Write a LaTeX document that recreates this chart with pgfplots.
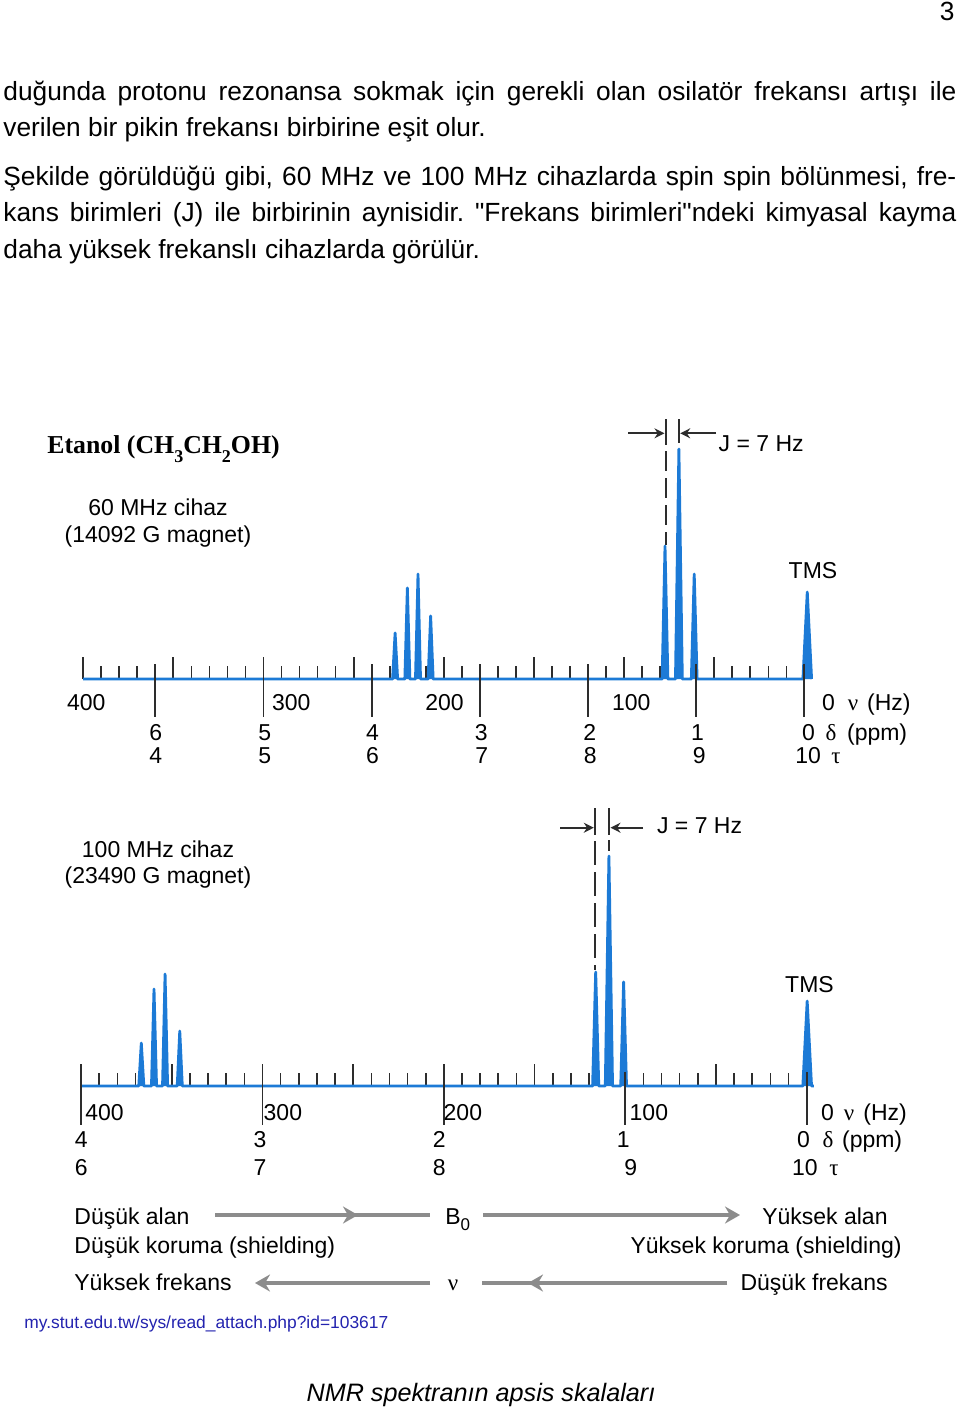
\documentclass[border=0pt]{standalone}
\usepackage{fontspec}
\setmainfont{Liberation Sans}[Ligatures=TeXOff]
\newfontfamily\timesf{Liberation Serif}
\usepackage{pgfplots}
\pgfplotsset{compat=1.18}
\usetikzlibrary{arrows.meta}

\definecolor{specblue}{RGB}{28,122,214}
\definecolor{arrgray}{RGB}{140,140,140}
\definecolor{urlblue}{RGB}{35,35,175}
\definecolor{tickc}{RGB}{45,45,45}

\newcommand{\lab}{\fontsize{11.5}{13}\selectfont}
\newcommand{\bodyf}{\fontsize{13.15}{16}\selectfont}
\newcommand{\tsub}[1]{\raisebox{-4.5pt}{\fontsize{9}{9}\selectfont #1}}

\pgfplotsset{nmr/.style={
  scale only axis, x dir=reverse, xmin=-4, xmax=400, ymin=0, ymax=240,
  height=120pt, anchor=south west, clip=false,
  axis y line=none, axis x line*=bottom,
  x axis line style={draw=none},
  xtick={0,50,...,400}, minor x tick num=4,
  tick align=inside, major tick length=11pt, minor tick length=6.5pt,
  xticklabel=\empty,
  every tick/.style={tickc, line width=0.9pt},
  every minor tick/.style={tickc, line width=0.8pt},
}}

\begin{document}
\frenchspacing
\begin{tikzpicture}[x=0.5pt,y=-0.5pt]
\path[use as bounding box] (0,0) rectangle (960,1410);
\fill[white] (0,0) rectangle (960,1410);

% ---------- page text ----------
\node[anchor=base east, inner sep=0, font=\bodyf] at (955,20) {3};
\node[anchor=base west, inner sep=0, font=\bodyf] at (3,100) {\makebox[476.5pt][s]{duğunda protonu rezonansa sokmak için gerekli olan osilatör frekansı artışı ile}};
\node[anchor=base west, inner sep=0, font=\bodyf] at (3,136) {verilen bir pikin frekansı birbirine eşit olur.};
\node[anchor=base west, inner sep=0, font=\bodyf] at (3,185) {\makebox[476.5pt][s]{Şekilde görüldüğü gibi, 60 MHz ve 100 MHz cihazlarda spin spin bölünmesi, fre-}};
\node[anchor=base west, inner sep=0, font=\bodyf] at (3,221.5) {\makebox[476.5pt][s]{kans birimleri (J) ile birbirinin aynisidir. "Frekans birimleri"ndeki kimyasal kayma}};
\node[anchor=base west, inner sep=0, font=\bodyf] at (3,258) {daha yüksek frekanslı cihazlarda görülür.};

% ---------- title ----------
\node[anchor=base west, inner sep=0] at (47,453) {\timesf\bfseries\fontsize{12.9}{14}\selectfont Etanol (CH\tsub{3}CH\tsub{2}OH)};

% ---------- 60 MHz spectrum ----------
\begin{axis}[nmr, at={(41.6pt,-339.5pt)}, width=364.2pt]
\addplot[specblue, line width=1.4pt, line join=round, fill=specblue] coordinates {
(400,0) (228.4,0) (227,46) (225.6,0) (221.6,0) (220.2,91) (218.8,0)
(215.7,0) (214.3,105) (212.9,0) (208.7,0) (207.3,63) (205.9,0)
(78.9,0) (77.3,133) (75.7,0) (71.5,0) (69.6,230) (67.7,0)
(62.7,0) (61.1,105) (59.5,0) (0.8,0) (-1.6,87) (-4,0)};
\pgfplotsinvokeforeach{0,60,120,180,240,300,360}{
  \draw[tickc, line width=0.9pt] (axis cs:#1,15) -- (axis cs:#1,-38);
}
\end{axis}

% ---------- 100 MHz spectrum ----------
\begin{axis}[nmr, at={(40.55pt,-543pt)}, width=366.4pt]
\addplot[specblue, line width=1.4pt, line join=round, fill=specblue] coordinates {
(400,0) (368.2,0) (366.8,43) (365.4,0) (361.2,0) (359.8,97) (358.4,0)
(355.1,0) (353.7,112) (352.3,0) (347,0) (345.6,55) (344.2,0)
(118,0) (116.3,114) (114.6,0) (111,0) (109,230) (107,0)
(102.5,0) (100.9,104) (99.3,0) (2.1,0) (-0.3,85) (-2.7,0) (-4,0)};
\pgfplotsinvokeforeach{0,100,200,300,400}{
  \draw[tickc, line width=0.9pt] (axis cs:#1,14) -- (axis cs:#1,-39);
}
\end{axis}

% ---------- J markers ----------
\begin{scope}[tickc, line width=0.9pt]
\draw (665.7,419) -- (665.7,445);
\draw[dash pattern=on 10pt off 3.5pt] (665.7,451) -- (665.7,545);
\draw (679,419) -- (679,443);
\draw[-{Stealth[length=5pt,width=5pt]}] (628,433.3) -- (664.5,433.3);
\draw[-{Stealth[length=5pt,width=5pt]}] (716,433.3) -- (680.2,433.3);
\draw (595,808) -- (595,835);
\draw[dash pattern=on 12pt off 3.5pt] (595,841) -- (595,970);
\draw (609.3,808) -- (609.3,835);
\draw (609.3,840) -- (609.3,851);
\draw[-{Stealth[length=5pt,width=5pt]}] (560,827.7) -- (593.8,827.7);
\draw[-{Stealth[length=5pt,width=5pt]}] (643,827.7) -- (610.5,827.7);
\end{scope}

% ---------- labels top spectrum ----------
\begin{scope}[every node/.style={inner sep=0, font=\lab}]
\node[anchor=base] at (158,515) {60 MHz cihaz};
\node[anchor=base] at (158,542) {(14092 G magnet)};
\node[anchor=base] at (813,578) {TMS};
\node[anchor=base west] at (718.3,451.7) {J = 7 Hz};
\node[anchor=base west] at (66.7,710) {400};
\node[anchor=base west] at (271.7,710) {300};
\node[anchor=base west] at (425,710) {200};
\node[anchor=base west] at (611.7,710) {100};
\node[anchor=base west] at (821.7,710) {0};
\node[anchor=base] at (853,710) {\timesf ν};
\node[anchor=base west] at (866.7,710) {(Hz)};
\node[anchor=base] at (155.8,740) {6};
\node[anchor=base] at (264.8,740) {5};
\node[anchor=base] at (372.5,740) {4};
\node[anchor=base] at (481.2,740) {3};
\node[anchor=base] at (589.7,740) {2};
\node[anchor=base] at (697.5,740) {1};
\node[anchor=base west] at (801.7,740) {0};
\node[anchor=base] at (831,740) {\timesf δ};
\node[anchor=base west] at (846.7,740) {(ppm)};
\node[anchor=base] at (155.8,763) {4};
\node[anchor=base] at (264.8,763) {5};
\node[anchor=base] at (372.5,763) {6};
\node[anchor=base] at (481.7,763) {7};
\node[anchor=base] at (590.3,763) {8};
\node[anchor=base] at (699.2,763) {9};
\node[anchor=base west] at (795,763) {10};
\node[anchor=base] at (836,763) {\timesf τ};

% ---------- labels bottom spectrum ----------
\node[anchor=base] at (158,857) {100 MHz cihaz};
\node[anchor=base] at (158,883) {(23490 G magnet)};
\node[anchor=base] at (809.5,992) {TMS};
\node[anchor=base west] at (656.7,833) {J = 7 Hz};
\node[anchor=base west] at (85,1120) {400};
\node[anchor=base west] at (263.3,1120) {300};
\node[anchor=base west] at (443.3,1120) {200};
\node[anchor=base west] at (629.3,1120) {100};
\node[anchor=base west] at (820.7,1120) {0};
\node[anchor=base] at (849,1120) {\timesf ν};
\node[anchor=base west] at (863,1120) {(Hz)};
\node[anchor=base] at (81.2,1147) {4};
\node[anchor=base] at (260,1147) {3};
\node[anchor=base] at (439.2,1147) {2};
\node[anchor=base] at (623.3,1147) {1};
\node[anchor=base west] at (796.7,1147) {0};
\node[anchor=base] at (828,1147) {\timesf δ};
\node[anchor=base west] at (841.7,1147) {(ppm)};
\node[anchor=base] at (81.2,1175) {6};
\node[anchor=base] at (260,1175) {7};
\node[anchor=base] at (439.2,1175) {8};
\node[anchor=base] at (630.8,1175) {9};
\node[anchor=base west] at (791.7,1175) {10};
\node[anchor=base] at (834,1175) {\timesf τ};

% ---------- bottom legend ----------
\node[anchor=base west] at (74,1224) {Düşük alan};
\node[anchor=base west] at (445,1224) {B\raisebox{-3pt}{\fontsize{8.5}{9}\selectfont 0}};
\node[anchor=base east] at (888,1224) {Yüksek alan};
\node[anchor=base west] at (74,1253) {Düşük koruma (shielding)};
\node[anchor=base east] at (902,1253) {Yüksek koruma (shielding)};
\node[anchor=base west] at (74,1290) {Yüksek frekans};
\node[anchor=base] at (453,1290) {\timesf ν};
\node[anchor=base east] at (888,1290) {Düşük frekans};
\end{scope}

\begin{scope}[arrgray, line width=2pt]
\draw (215,1215) -- (430,1215);
\draw[-{Stealth[length=7.5pt,width=8.5pt,inset=2.5pt]}] (215,1215) -- (358,1215);
\draw[-{Stealth[length=7.5pt,width=8.5pt,inset=2.5pt]}] (483,1215) -- (740,1215);
\draw[-{Stealth[length=7.5pt,width=8.5pt,inset=2.5pt]}] (430,1283) -- (255,1283);
\draw (727,1283) -- (482,1283);
\draw[-{Stealth[length=7.5pt,width=8.5pt,inset=2.5pt]}] (727,1283) -- (528,1283);
\end{scope}

\node[anchor=base west, inner sep=0, text=urlblue, font=\fontsize{8.7}{10}\selectfont] at (24,1328) {my.stut.edu.tw/sys/read\_attach.php?id=103617};
\node[anchor=base, inner sep=0, font=\fontsize{12.6}{14}\selectfont\itshape] at (481,1401) {NMR spektranın apsis skalaları};
\end{tikzpicture}
\end{document}
